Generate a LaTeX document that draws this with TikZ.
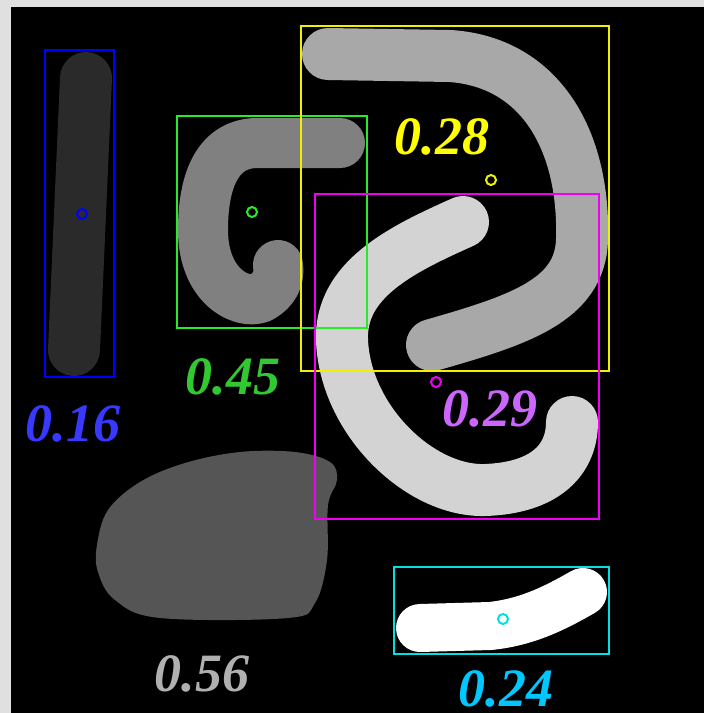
\documentclass[tikz,border=0pt]{standalone}
\usepackage{fontspec}
\setmainfont{Liberation Serif}
\definecolor{margin}{RGB}{224,224,224}
\definecolor{shadeA}{RGB}{42,42,42}
\definecolor{shadeB}{RGB}{128,128,128}
\definecolor{shadeC}{RGB}{168,168,168}
\definecolor{shadeD}{RGB}{211,211,211}
\definecolor{shadeE}{RGB}{85,85,85}
\definecolor{boxblue}{RGB}{0,0,255}
\definecolor{boxgreen}{RGB}{40,235,40}
\definecolor{boxyellow}{RGB}{240,240,0}
\definecolor{boxmagenta}{RGB}{240,0,240}
\definecolor{boxcyan}{RGB}{0,225,225}
\definecolor{txtblue}{RGB}{56,56,255}
\definecolor{txtgreen}{RGB}{50,200,50}
\definecolor{txtyellow}{RGB}{255,255,0}
\definecolor{txtpurple}{RGB}{204,102,255}
\definecolor{txtgray}{RGB}{176,176,176}
\definecolor{txtcyan}{RGB}{0,200,255}
\begin{document}
\begin{tikzpicture}[x=1pt,y=-1pt,
	box/.style={line width=1.6pt},
	stroke/.style={line width=52pt,line cap=round,line join=round},
	ctr/.style={line width=2pt},
	score/.style={font=\fontsize{54}{54}\selectfont\bfseries\itshape,inner sep=0pt}]
	\useasboundingbox (0,0) rectangle (704,713);
	%background
	\fill[margin] (0,0) rectangle (704,713);
	\fill[black] (11,7) rectangle (704,713);

	%regions
	\draw[stroke,shadeA] (86,78) -- (74,350); %bar
	\draw[stroke,shadeB,line width=50pt] (340,143) -- (255,143) .. controls (215,145) and (203,185) .. (203,230)
	  .. controls (203,285) and (240,305) .. (260,298) .. controls (275,290) and (280,278) .. (278,265); %hook
	\draw[stroke,shadeC] (328,54) -- (450,56) .. controls (540,62) and (585,140) .. (582,240)
	  .. controls (580,300) and (520,320) .. (432,345); %big arc
	\draw[stroke,shadeD] (463,222) .. controls (400,250) and (340,280) .. (342,340)
	  .. controls (345,420) and (420,492) .. (485,490) .. controls (545,488) and (572,460) .. (572,422); %S curve
	\fill[shadeE] plot[smooth cycle,tension=0.6] coordinates {(97,545) (108,510) (140,482) (185,463) (240,452)
	  (295,452) (330,462) (337,480) (328,505) (327,560) (315,603) (288,618) (160,618) (115,600) (98,572)}; %blob
	\draw[stroke,white,line width=48pt] (420,628) -- (490,626) .. controls (530,622) and (560,605) .. (583,592); %bar 2

	%bounding boxes
	\draw[box,boxblue] (45,50) rectangle (114,377);
	\draw[box,boxgreen] (177,116) rectangle (367,328);
	\draw[box,boxyellow] (301,26) rectangle (609,371);
	\draw[box,boxmagenta] (315,194) rectangle (599,519);
	\draw[box,boxcyan] (394,567) rectangle (609,654);

	%centroids
	\draw[ctr,boxblue] (82,214) circle (5);
	\draw[ctr,boxgreen] (252,212) circle (5);
	\draw[ctr,boxyellow] (491,180) circle (5);
	\draw[ctr,boxmagenta] (436,382) circle (5);
	\draw[ctr,boxcyan] (503,619) circle (5);

	%labels
	\node[score,text=txtblue] (s16) at (73,424) {0.16};
	\node[score,text=txtgreen] (s45) at (233,377) {0.45};
	\node[score,text=txtyellow] (s28) at (442,137) {0.28};
	\node[score,text=txtpurple] (s29) at (490,409) {0.29};
	\node[score,text=txtgray] (s56) at (202,674) {0.56};
	\node[score,text=txtcyan] (s24) at (506,689) {0.24};
\end{tikzpicture}
\end{document}
